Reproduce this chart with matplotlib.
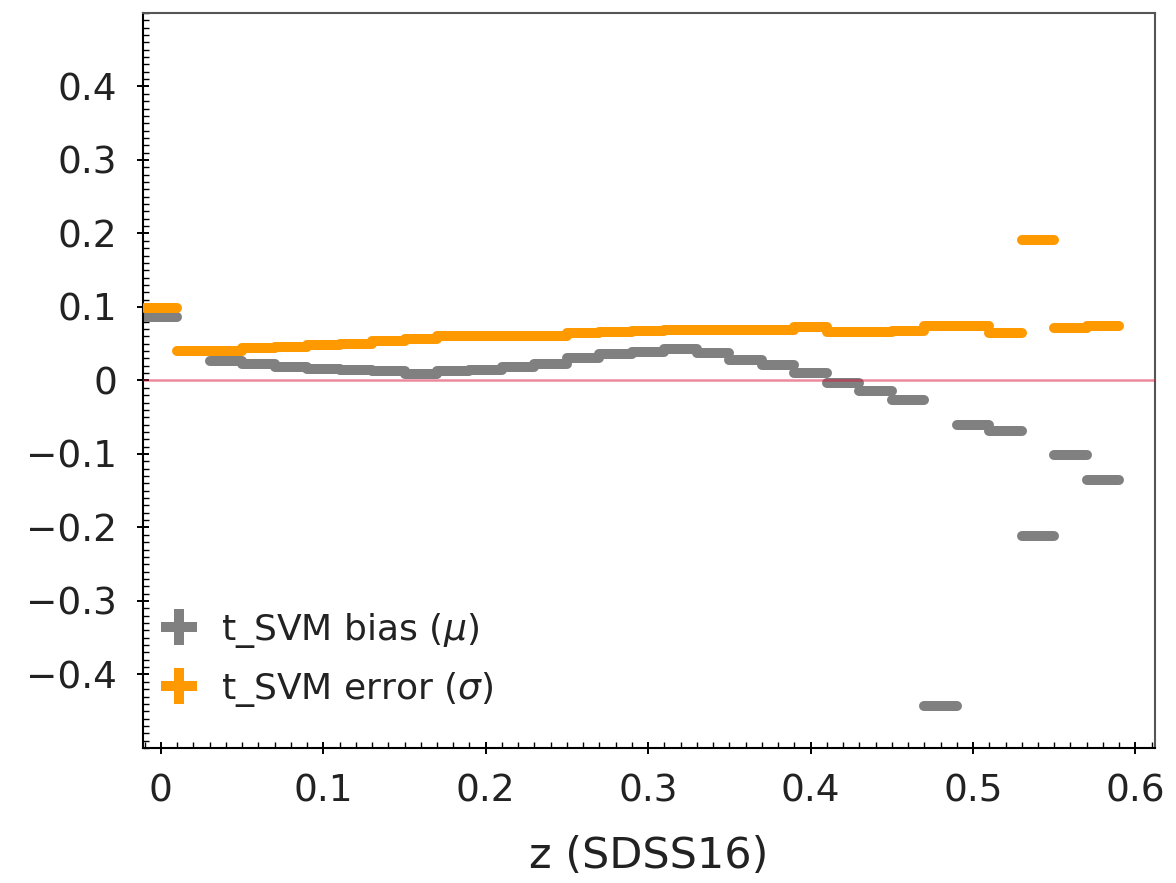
import numpy as np
import matplotlib
matplotlib.use("Agg")
import matplotlib.pyplot as plt
from matplotlib.ticker import MultipleLocator, FixedLocator, FixedFormatter

# ---- data ----
z_bins = [0.00, 0.02, 0.04, 0.06, 0.08, 0.10, 0.12, 0.14, 0.16, 0.18,
          0.20, 0.22, 0.24, 0.26, 0.28, 0.30, 0.32, 0.34, 0.36, 0.38,
          0.40, 0.42, 0.44, 0.46, 0.48, 0.50, 0.52, 0.54, 0.56, 0.58]
bin_halfwidth = 0.01
bias_mu = [0.087, np.nan, 0.026, 0.022, 0.019, 0.016, 0.014, 0.013, 0.009, 0.013,
           0.014, 0.019, 0.022, 0.030, 0.036, 0.039, 0.043, 0.038, 0.028, 0.021,
           0.010, -0.004, -0.014, -0.026, -0.443, -0.060, -0.069, -0.212, -0.102, -0.136]
error_sigma = [0.098, 0.040, 0.040, 0.044, 0.045, 0.048, 0.050, 0.054, 0.057, 0.060,
               0.061, 0.061, 0.061, 0.064, 0.066, 0.067, 0.069, 0.069, 0.069, 0.069,
               0.073, 0.066, 0.066, 0.068, 0.074, 0.074, 0.065, 0.191, 0.071, 0.074]
series_labels = [r"t_SVM bias ($\mu$)", r"t_SVM error ($\sigma$)"]
x_label = "z (SDSS16)"
x_ticks = [0.0, 0.1, 0.2, 0.3, 0.4, 0.5, 0.6]
x_ticklabels = ["0", "0.1", "0.2", "0.3", "0.4", "0.5", "0.6"]
y_ticks = [-0.4, -0.3, -0.2, -0.1, 0.0, 0.1, 0.2, 0.3, 0.4]
y_ticklabels = ["\u22120.4", "\u22120.3", "\u22120.2", "\u22120.1", "0", "0.1", "0.2", "0.3", "0.4"]

plt.rcParams['font.family'] = ['DejaVu Sans']
plt.rcParams['mathtext.fontset'] = 'dejavusans'

fig = plt.figure(figsize=(11.76, 8.83), dpi=100)
ax = fig.add_axes([0.1216, 0.1529, 0.9821 - 0.1216, 0.9853 - 0.1529])

z = np.array(z_bins)
xerr = np.full(len(z), bin_halfwidth)
yerr0 = np.zeros(len(z))

lw = 7.2
eb1 = ax.errorbar(z, bias_mu, xerr=xerr, yerr=yerr0, fmt='none', ecolor='#808080',
                  elinewidth=lw, label=series_labels[0], zorder=2)
eb2 = ax.errorbar(z, error_sigma, xerr=xerr, yerr=yerr0, fmt='none', ecolor='#ff9900',
                  elinewidth=lw, label=series_labels[1], zorder=3)
for eb in (eb1, eb2):
    for lc in eb[2]:
        lc.set_capstyle('round')

ax.axhline(0, color='crimson', alpha=0.5, lw=1.8, zorder=4)

ax.set_xlim(-0.011, 0.612)
ax.set_ylim(-0.5, 0.5)

ax.xaxis.set_major_locator(FixedLocator(x_ticks))
ax.xaxis.set_major_formatter(FixedFormatter(x_ticklabels))
ax.yaxis.set_major_locator(FixedLocator(y_ticks))
ax.yaxis.set_major_formatter(FixedFormatter(y_ticklabels))
ax.xaxis.set_minor_locator(MultipleLocator(0.01))
ax.yaxis.set_minor_locator(MultipleLocator(0.01))

ax.tick_params(which='major', direction='inout', length=9, width=1.4, labelsize=27,
               pad=14, top=False, right=False, colors='black', labelcolor='#222222')
ax.tick_params(which='minor', direction='in', length=4, width=1.0, top=False, right=False)

for s in ['left', 'bottom']:
    ax.spines[s].set_color('black')
    ax.spines[s].set_linewidth(1.5)
for s in ['top', 'right']:
    ax.spines[s].set_color('#555555')
    ax.spines[s].set_linewidth(1.5)

ax.set_xlabel(x_label, fontsize=31, color='#222222', labelpad=18)

leg = ax.legend(loc='lower left', bbox_to_anchor=(-0.007, 0.019), frameon=False,
                fontsize=26, handlelength=1.0, handletextpad=0.65, borderaxespad=0.3,
                labelspacing=0.55, borderpad=0.4, labelcolor='#222222')
for h in leg.legend_handles:
    try:
        for lc in h[2]:
            lc.set_capstyle('round')
            lc.set_linewidth(lw)
    except Exception:
        pass

fig.savefig('out.png', dpi=100)
